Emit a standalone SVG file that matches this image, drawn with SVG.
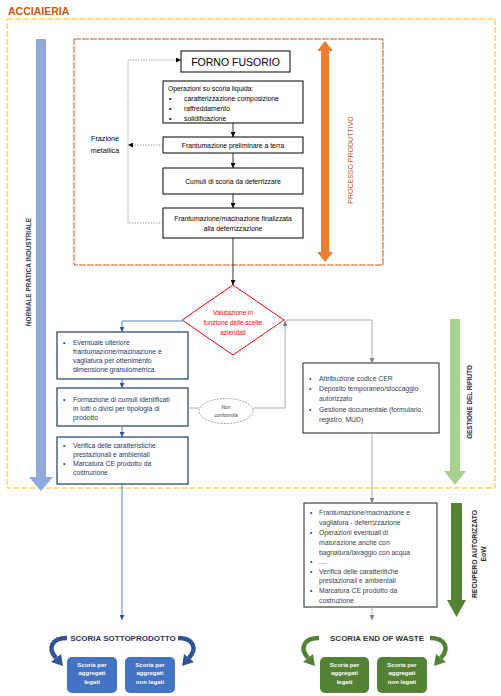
<svg xmlns="http://www.w3.org/2000/svg" width="501" height="696" viewBox="0 0 501 696">
<defs>
<style>
text{font-family:"Liberation Sans",Arial,sans-serif}
.t{font-size:6.8px;fill:#000}
.n{font-size:6.8px;fill:#1F3864}
.g{font-size:6.8px;fill:#333F50}
.box{fill:#fff;stroke:#000;stroke-width:1}
.nbox{fill:#fff;stroke:#1F3864;stroke-width:1.2}
.gbox{fill:#fff;stroke:#3A4A3A;stroke-width:1.2}
.lk{fill:none;stroke:#000;stroke-width:0.8}
.lb{fill:none;stroke:#4472C4;stroke-width:0.9}
.lg{fill:none;stroke:#A5A5A5;stroke-width:0.9}
.ld{fill:none;stroke:#8C8C8C;stroke-width:0.8;stroke-dasharray:1.5,1.2}
.wt{font-size:6px;fill:#fff;font-weight:bold;text-anchor:middle}
</style>
<marker id="ak" viewBox="0 0 6 6" refX="6" refY="3" markerWidth="5" markerHeight="5" markerUnits="userSpaceOnUse" orient="auto"><path d="M0,0 L6,3 L0,6 z" fill="#000"/></marker>
<marker id="ab" viewBox="0 0 6 6" refX="6" refY="3" markerWidth="5" markerHeight="5" markerUnits="userSpaceOnUse" orient="auto"><path d="M0,0 L6,3 L0,6 z" fill="#2F5597"/></marker>
<marker id="ag" viewBox="0 0 6 6" refX="6" refY="3" markerWidth="5" markerHeight="5" markerUnits="userSpaceOnUse" orient="auto"><path d="M0,0 L6,3 L0,6 z" fill="#7F7F7F"/></marker>
<marker id="ad" viewBox="0 0 6 6" refX="6" refY="3" markerWidth="5" markerHeight="5" markerUnits="userSpaceOnUse" orient="auto"><path d="M0,0 L6,3 L0,6 z" fill="#000"/></marker>
</defs>
<rect width="501" height="696" fill="#fff"/>

<g id="title">
<text x="8" y="15" font-size="10.5" font-weight="bold" fill="#C55A11">ACCIAIERIA</text>
</g>
<g id="acciaieria-frame">
<rect x="7" y="19" width="488" height="469" fill="none" stroke="#FFC000" stroke-width="1" stroke-dasharray="6,2"/>
</g>

<g id="normale-pratica">
<path d="M36 39 H46 V477 H53 L41 491 L29 477 H36 Z" fill="#8EA9DB"/>
<text transform="translate(30.5,272) rotate(-90)" text-anchor="middle" font-size="6.5" font-weight="bold" fill="#1F3864">NORMALE PRATICA INDUSTRIALE</text>
</g>

<g id="processo-frame">
<rect x="74" y="39" width="309" height="226" fill="none" stroke="#C55A11" stroke-width="1" stroke-dasharray="7,1"/>
</g>
<g id="processo-produttivo">
<path d="M325 41 L333 51 H329 V252 H333 L325 262 L317 252 H321 V51 H317 Z" fill="#ED7D31"/>
<text transform="translate(353,160) rotate(-90)" text-anchor="middle" font-size="7" fill="#C55A11">PROCESSO PRODUTTIVO</text>
</g>

<g id="forno">
<rect class="box" x="181" y="51" width="109" height="21"/>
<text x="235.5" y="65.5" text-anchor="middle" font-size="10.5">FORNO FUSORIO</text>
</g>
<g id="operazioni">
<rect class="box" x="163" y="81" width="140" height="42"/>
<text class="t" x="168" y="90.5">Operazioni su scoria liquida:</text>
<text class="t" x="169" y="101">•</text><text class="t" x="184" y="101">caratterizzazione composizione</text>
<text class="t" x="169" y="111">•</text><text class="t" x="184" y="111">raffreddamento</text>
<text class="t" x="169" y="121">•</text><text class="t" x="184" y="121">solidificazione</text>
</g>
<g id="frant-prelim">
<rect class="box" x="163" y="137" width="140" height="16"/>
<text class="t" x="233" y="147.5" text-anchor="middle">Frantumazione preliminare a terra</text>
</g>
<g id="cumuli">
<rect class="box" x="163" y="168" width="140" height="26"/>
<text class="t" x="233" y="183.5" text-anchor="middle">Cumuli di scoria da deferrizzare</text>
</g>
<g id="frant-final">
<rect class="box" x="163" y="208" width="140" height="30"/>
<text class="t" x="233" y="220.5" text-anchor="middle">Frantumazione/macinazione finalizzata</text>
<text class="t" x="233" y="230.5" text-anchor="middle">alla deferrizzazione</text>
</g>
<g id="frazione-metallica">
<text x="105" y="141" text-anchor="middle" font-size="7.2" fill="#000">Frazione</text>
<text x="105" y="153" text-anchor="middle" font-size="7.2" fill="#000">metallica</text>
</g>

<g id="valutazione">
<path d="M233 285 L284 320 L233 355 L182 320 Z" fill="#fff" stroke="#FF0000" stroke-width="1"/>
<text x="233" y="314.5" text-anchor="middle" font-size="6.5" fill="#FF0000">Valutazione in</text>
<text x="233" y="324.5" text-anchor="middle" font-size="6.5" fill="#FF0000">funzione delle scelte</text>
<text x="233" y="334.5" text-anchor="middle" font-size="6.5" fill="#FF0000">aziendali</text>
</g>

<g id="ulteriore">
<rect class="nbox" x="57" y="332" width="131" height="47"/>
<text class="n" x="63" y="344.5">•</text>
<text class="n" x="73" y="344.5">Eventuale ulteriore</text>
<text class="n" x="73" y="353.5">frantumazione/macinazione e</text>
<text class="n" x="73" y="362.5">vagliatura per ottenimento</text>
<text class="n" x="73" y="371.5">dimensione granulometrica</text>
</g>
<g id="formazione">
<rect class="nbox" x="57" y="388" width="131" height="38"/>
<text class="n" x="63" y="401.5">•</text>
<text class="n" x="73" y="401.5">Formazione di cumuli identificati</text>
<text class="n" x="73" y="410.5">in lotti o divisi per tipologia di</text>
<text class="n" x="73" y="420">prodotto</text>
</g>
<g id="verifica-sp">
<rect class="nbox" x="57" y="437" width="131" height="47"/>
<text class="n" x="63" y="447.5">•</text>
<text class="n" x="73" y="447.5">Verifica delle caratteristiche</text>
<text class="n" x="73" y="456.5">prestazionali e ambientali</text>
<text class="n" x="63" y="465.5">•</text>
<text class="n" x="73" y="465.5">Marcatura CE prodotto da</text>
<text class="n" x="73" y="474.5">costruzione</text>
</g>
<g id="non-conformita">
<ellipse cx="226" cy="411" rx="27" ry="12.5" fill="#fff" stroke="#8C8C8C" stroke-width="0.8" stroke-dasharray="2,1.2"/>
<text x="226" y="409" text-anchor="middle" font-size="5" fill="#404040">Non</text>
<text x="226" y="417" text-anchor="middle" font-size="5" fill="#404040">conformità</text>
</g>

<g id="gestione-box">
<rect class="gbox" x="303" y="363" width="136" height="70"/>
<text class="g" x="309" y="380.5">•</text>
<text class="g" x="319" y="380.5">Attribuzione codice CER</text>
<text class="g" x="309" y="390.5">•</text>
<text class="g" x="319" y="390.5">Deposito temporaneo/stoccaggio</text>
<text class="g" x="319" y="400.5">autorizzato</text>
<text class="g" x="309" y="411.5">•</text>
<text class="g" x="319" y="411.5">Gestione documentale (formulario,</text>
<text class="g" x="319" y="421.5">registro, MUD)</text>
</g>
<g id="gestione-rifiuto">
<path d="M450 319 H460 V471 H466 L455 485 L444 471 H450 Z" fill="#A9D18E"/>
<text transform="translate(472,402) rotate(-90)" text-anchor="middle" font-size="6.3" font-weight="bold" fill="#262626">GESTIONE DEL RIFIUTO</text>
</g>

<g id="eow-box">
<rect class="gbox" x="304" y="503" width="133" height="104"/>
<text class="g" x="310" y="514.5">•</text>
<text class="g" x="319" y="514.5">Frantumazione/macinazione e</text>
<text class="g" x="319" y="524.5">vagliatura - deferrizzazione</text>
<text class="g" x="310" y="534.5">•</text>
<text class="g" x="319" y="534.5">Operazioni eventuali di</text>
<text class="g" x="319" y="544.5">maturazione anche con</text>
<text class="g" x="319" y="554.5">bagnatura/lavaggio con acqua</text>
<text class="g" x="310" y="563.5">•</text>
<text class="g" x="319" y="563.5">....</text>
<text class="g" x="310" y="573.5">•</text>
<text class="g" x="319" y="573.5">Verifica delle caratteritiche</text>
<text class="g" x="319" y="582.5">prestazionali e ambientali</text>
<text class="g" x="310" y="592.5">•</text>
<text class="g" x="319" y="592.5">Marcatura CE prodotto da</text>
<text class="g" x="319" y="602.5">costruzione</text>
</g>
<g id="recupero">
<path d="M451 503 H462 V600 H466 L456.5 617 L447 600 H451 Z" fill="#548235"/>
<text transform="translate(477,554) rotate(-90)" text-anchor="middle" font-size="6.8" font-weight="bold" fill="#262626">RECUPERO AUTORIZZATO</text>
<text transform="translate(485.5,554) rotate(-90)" text-anchor="middle" font-size="6.8" font-weight="bold" fill="#262626">EoW</text>
</g>

<g id="sottoprodotto">
<text x="123" y="641" text-anchor="middle" font-size="8" font-weight="bold" fill="#1F3864">SCORIA SOTTOPRODOTTO</text>
<path d="M67 638 C52 638 47 648 56 658" fill="none" stroke="#2F5597" stroke-width="4.5"/>
<path d="M61 654 L63 666 L51 662 Z" fill="#2F5597"/>
<path d="M178 638 C193 638 198 648 189 658" fill="none" stroke="#2F5597" stroke-width="4.5"/>
<path d="M184 654 L182 666 L194 662 Z" fill="#2F5597"/>
</g>
<g id="sp-legati">
<rect x="67" y="657" width="50" height="36" rx="5" fill="#4472C4"/>
<text class="wt" x="92" y="667">Scoria per</text>
<text class="wt" x="92" y="675">aggregati</text>
<text class="wt" x="92" y="684">legati</text>
</g>
<g id="sp-nonlegati">
<rect x="125" y="657" width="50" height="36" rx="5" fill="#4472C4"/>
<text class="wt" x="150" y="667">Scoria per</text>
<text class="wt" x="150" y="675">aggregati</text>
<text class="wt" x="150" y="684">non legati</text>
</g>

<g id="end-of-waste">
<text x="377" y="641" text-anchor="middle" font-size="8" font-weight="bold" fill="#2E3A2E">SCORIA END OF WASTE</text>
<path d="M319 638 C304 638 299 648 308 658" fill="none" stroke="#548235" stroke-width="4.5"/>
<path d="M313 654 L315 666 L303 662 Z" fill="#548235"/>
<path d="M430 638 C445 638 450 648 441 658" fill="none" stroke="#548235" stroke-width="4.5"/>
<path d="M436 654 L434 666 L446 662 Z" fill="#548235"/>
</g>
<g id="eow-legati">
<rect x="320" y="657" width="49" height="36" rx="5" fill="#548235"/>
<text class="wt" x="344.5" y="667">Scoria per</text>
<text class="wt" x="344.5" y="675">aggregati</text>
<text class="wt" x="344.5" y="684">legati</text>
</g>
<g id="eow-nonlegati">
<rect x="377" y="657" width="50" height="36" rx="5" fill="#548235"/>
<text class="wt" x="402" y="667">Scoria per</text>
<text class="wt" x="402" y="675">aggregati</text>
<text class="wt" x="402" y="684">non legati</text>
</g>

<g id="connectors">
<path class="lk" d="M233 123 V137" marker-end="url(#ak)"/>
<path class="lk" d="M233 153 V168" marker-end="url(#ak)"/>
<path class="lk" d="M233 194 V208" marker-end="url(#ak)"/>
<path class="lk" d="M233 238 V285" marker-end="url(#ak)"/>
<path class="ld" d="M163 223 H128 V60 H181" marker-end="url(#ad)"/>
<path class="ld" d="M163 145 H128" marker-end="url(#ad)"/>
<path class="lb" d="M182 321 H122 V332" marker-end="url(#ab)"/>
<path class="lb" d="M122 379 V388" marker-end="url(#ab)"/>
<path class="lb" d="M122 426 V437" marker-end="url(#ab)"/>
<path class="lb" d="M122 484 V620" marker-end="url(#ab)"/>
<path class="lg" d="M284 320 H372 V363" marker-end="url(#ag)"/>
<path class="lg" d="M372 433 V503" marker-end="url(#ag)"/>
<path class="lg" d="M372 607 V620" marker-end="url(#ag)"/>
<path class="lg" d="M188 408 H199"/>
<path class="lg" d="M253 408 H285 V321" marker-end="url(#ag)"/>
</g>
</svg>
